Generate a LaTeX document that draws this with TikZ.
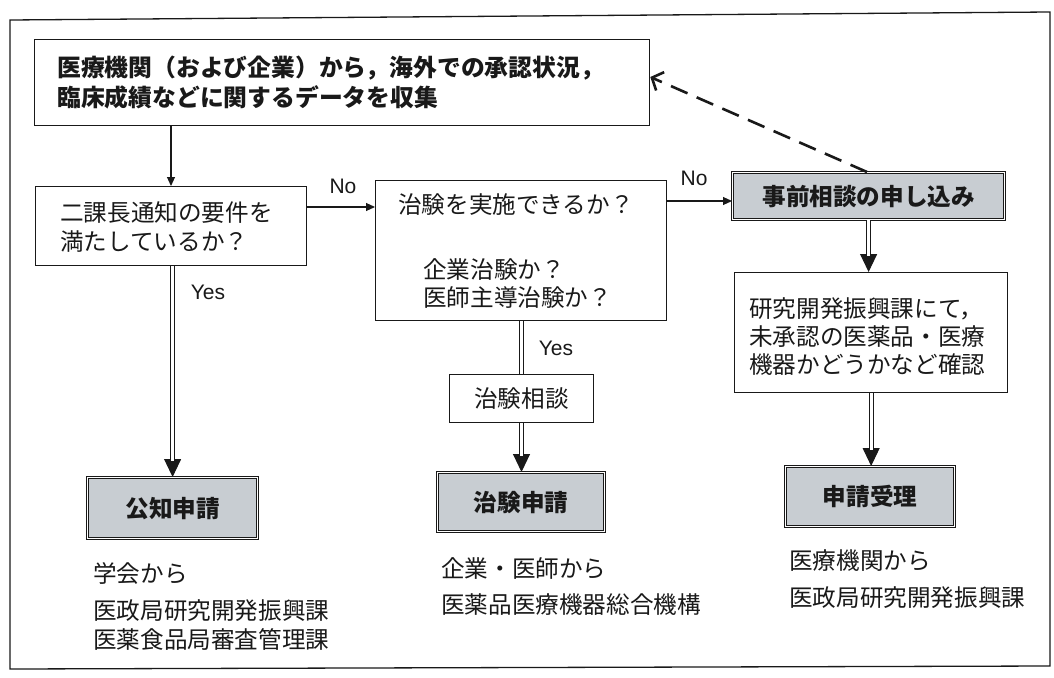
\documentclass[tikz,border=0pt]{standalone}
\usepackage{fontspec}
\setmainfont{Liberation Sans}
\newfontfamily\jp{Noto Sans CJK JP}
\usetikzlibrary{arrows.meta}
\definecolor{boxgray}{RGB}{200,205,210}
\definecolor{ink}{RGB}{25,25,25}
\begin{document}
\begin{tikzpicture}[x=1pt,y=-1pt,
  wbox/.style={draw=ink, line width=1.3pt, fill=white, inner sep=0pt, anchor=north west},
  gbox/.style={draw=ink, double=white, double distance=1.1pt, line width=1.2pt, fill=boxgray, inner sep=0pt, anchor=north west},
  jtxt/.style={font=\jp\fontsize{23.6}{28}\selectfont, text=ink, inner sep=0pt, anchor=west, align=left},
  jbold/.style={font=\jp\bfseries\fontsize{23.6}{28}\selectfont, text=ink, inner sep=0pt},
  lab/.style={font=\fontsize{21}{24}\selectfont, text=ink, inner sep=0pt},
  thinarrow/.style={draw=ink, line width=1.1pt, -{Triangle[length=9pt,width=8pt]}},
  tipline/.style={draw=ink, line width=1pt, -{Triangle[length=18pt,width=17pt]}},
  dbl/.style={draw=ink, double=white, double distance=3pt, line width=1.1pt},
  dashedarrow/.style={draw=ink, line width=2.6pt, dash pattern=on 18pt off 10pt, -{Straight Barb[length=9pt,width=20pt,line width=2.6pt]}}
]
\fill[white] (0,0) rectangle (1054,677);
\useasboundingbox (0,0) rectangle (1054,677);
% outer frame
\draw[ink, line width=1.3pt] (1050,12) -- (10,20) -- (10,669) -- (1050,666) -- cycle;

% boxes
\node[wbox, minimum width=615pt, minimum height=86pt] (top) at (34,39) {};
\node[wbox, minimum width=271pt, minimum height=79pt] (q1) at (35,186) {};
\node[wbox, minimum width=291pt, minimum height=140pt] (q2) at (375,180) {};
\node[gbox, minimum width=272pt, minimum height=47pt] (pre) at (732,172) {};
\node[wbox, minimum width=273pt, minimum height=120pt] (dev) at (734,272) {};
\node[wbox, minimum width=144pt, minimum height=48pt, line width=1pt] (cons) at (449,374) {};
\node[gbox, minimum width=170pt, minimum height=61pt] (kochi) at (87,477) {};
\node[gbox, minimum width=167pt, minimum height=59pt] (chiken) at (437,472) {};
\node[gbox, minimum width=169pt, minimum height=60pt] (juri) at (785,466) {};

% texts in boxes
\node[jtxt, font=\jp\bfseries\fontsize{23.8}{28}\selectfont] (ttop1) at (57,68) {医療機関（および企業）から，海外での承認状況，};
\node[jtxt, font=\jp\bfseries\fontsize{23.8}{28}\selectfont] (ttop2) at (57,97) {臨床成績などに関するデータを収集};
\node[jtxt] (tq1a) at (60,213) {二課長通知の要件を};
\node[jtxt] (tq1b) at (60,242) {満たしているか？};
\node[jtxt] (tq2a) at (398,205) {治験を実施できるか？};
\node[jtxt] (tq2b) at (423,270) {企業治験か？};
\node[jtxt] (tq2c) at (423,298) {医師主導治験か？};
\node[jbold] at (pre.center) {事前相談の申し込み};
\node[jtxt] (tdev1) at (749,309) {研究開発振興課にて，};
\node[jtxt] (tdev2) at (749,337) {未承認の医薬品・医療};
\node[jtxt] (tdev3) at (749,365) {機器かどうかなど確認};
\node[jtxt, anchor=center] at (cons.center) {治験相談};
\node[jbold] at (kochi.center) {公知申請};
\node[jbold] at (chiken.center) {治験申請};
\node[jbold] at (juri.center) {申請受理};

% texts below
\node[jtxt] (b1a) at (93,574) {学会から};
\node[jtxt] (b1b) at (93,611) {医政局研究開発振興課};
\node[jtxt] (b1c) at (93,639) {医薬食品局審査管理課};
\node[jtxt] (b2a) at (441,568) {企業・医師から};
\node[jtxt] (b2b) at (441,605) {医薬品医療機器総合機構};
\node[jtxt] (b3a) at (789,561) {医療機関から};
\node[jtxt] (b3b) at (789,598) {医政局研究開発振興課};

% labels
\node[lab] (no1) at (343,186) {No};
\node[lab] (no2) at (694,178) {No};
\node[lab] (yes1) at (208,292) {Yes};
\node[lab] (yes2) at (556,348) {Yes};

% helper coordinates
\coordinate (cx1) at (171,0);
\coordinate (cy1) at (0,207);
\coordinate (cy2) at (0,201);
\coordinate (cx3) at (867,0);
\coordinate (cy3) at (0,77);

% connectors
\draw[thinarrow] (cx1 |- top.south) -- (cx1 |- q1.north);
\draw[thinarrow] (q1.east |- cy1) -- (q2.west |- cy1);
\draw[thinarrow] (q2.east |- cy2) -- (pre.west |- cy2);
\draw[dashedarrow] (cx3 |- pre.north) -- (top.east |- cy3);

\draw[tipline] (pre.south) -- (pre.south |- dev.north);
\draw[dbl, shorten >=16pt] (pre.south) -- (pre.south |- dev.north);
\draw[tipline] (dev.south) -- (dev.south |- juri.north);
\draw[dbl, shorten >=16pt] (dev.south) -- (dev.south |- juri.north);
\draw[tipline] (kochi.north |- q1.south) -- (kochi.north);
\draw[dbl, shorten >=16pt] (kochi.north |- q1.south) -- (kochi.north);
\draw[dbl] (cons.north |- q2.south) -- (cons.north);
\draw[tipline] (cons.south) -- (cons.south |- chiken.north);
\draw[dbl, shorten >=16pt] (cons.south) -- (cons.south |- chiken.north);
\end{tikzpicture}
\end{document}
